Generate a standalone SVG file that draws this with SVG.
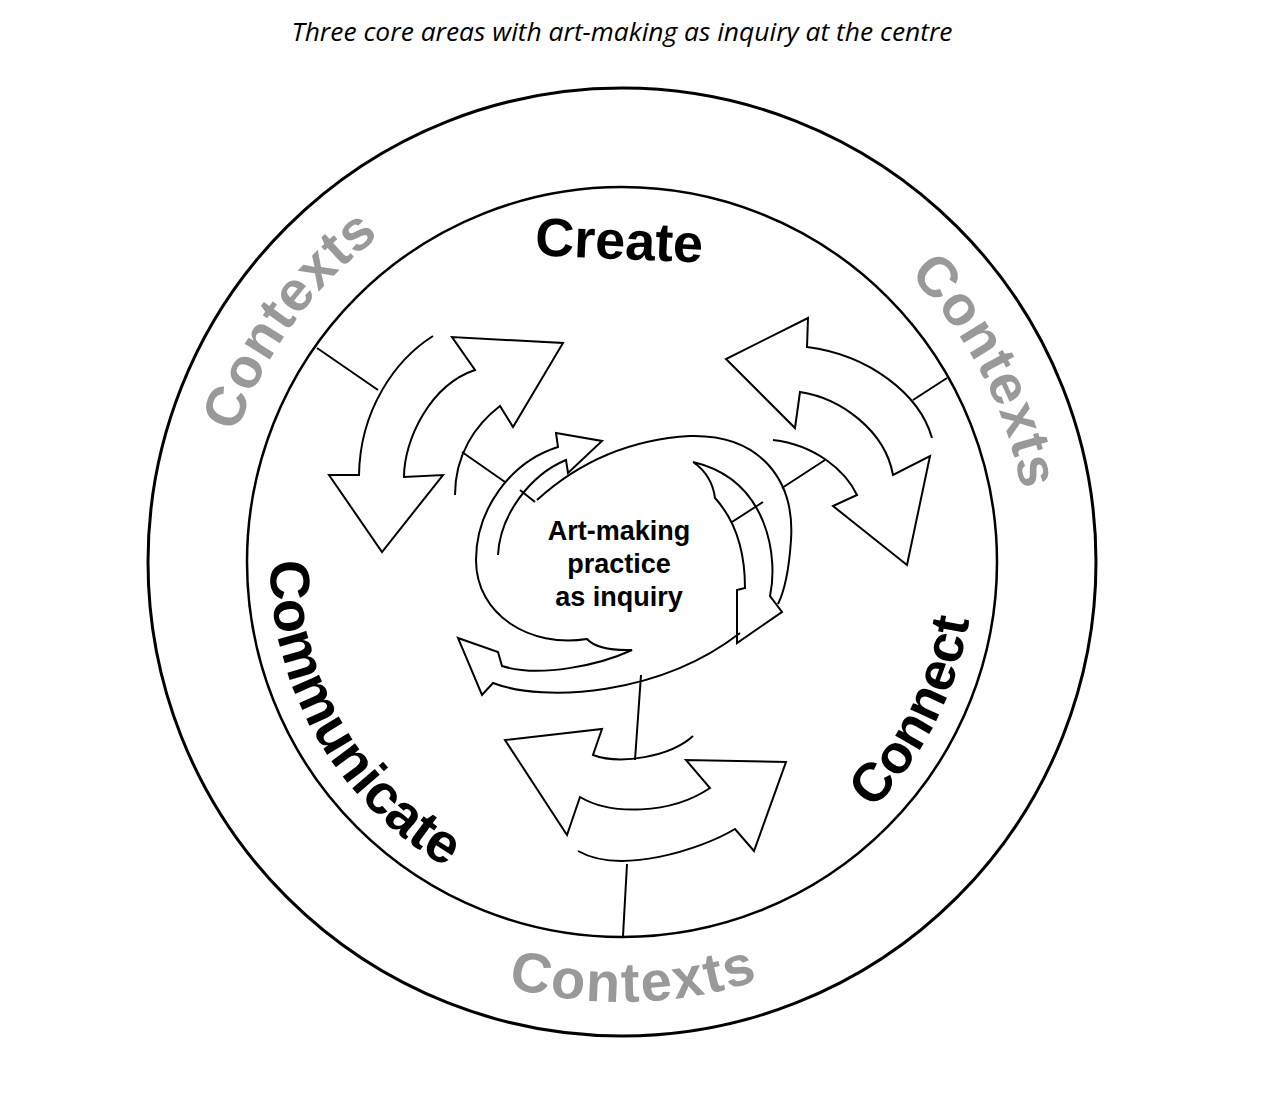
<svg xmlns="http://www.w3.org/2000/svg" width="1287" height="1104" viewBox="0 0 1287 1104">
<style>
.ring{fill:none;stroke:#000}
.ln{fill:none;stroke:#000;stroke-width:2;stroke-linejoin:miter;stroke-linecap:butt}
.ctx{font-family:"Liberation Sans",Arial,sans-serif;font-weight:bold;font-size:56px;fill:#999;letter-spacing:1px}
.area{font-family:"Liberation Sans",Arial,sans-serif;font-weight:bold;font-size:54px;fill:#000}
.core{font-family:"Liberation Sans",Arial,sans-serif;font-weight:bold;font-size:27px;fill:#000;text-anchor:middle}
.title{font-family:"Open Sans","Liberation Sans",sans-serif;font-style:italic;font-size:26px;fill:#000;text-anchor:middle}
</style>
<defs>
<path id="pCtxTL" d="M218.2,519.6 A406,406 0 0 1 456.9,191.1"/>
<path id="pCtxTR" d="M839.5,219.2 A406,406 0 0 1 1027.6,579"/>
<path id="pCtxB" d="M412.7,949 A440,440 0 0 0 852.6,936.7"/>
<path id="pComm" d="M271.9,525.2 A352,352 0 0 0 478.8,883.6"/>
<path id="pConn" d="M798,866.8 A352,352 0 0 0 972.1,525.2"/>
</defs>
<rect width="1287" height="1104" fill="#fff"/>
<text class="title" x="622" y="41" textLength="661" lengthAdjust="spacingAndGlyphs">Three core areas with art-making as inquiry at the centre</text>
<g id="rings">
<circle class="ring" cx="622" cy="562" r="474" stroke-width="3"/>
<circle class="ring" cx="622" cy="562" r="375" stroke-width="2.5"/>
</g>
<g id="contexts">
<text class="ctx"><textPath href="#pCtxTL" startOffset="50%" text-anchor="middle">Contexts</textPath></text>
<text class="ctx"><textPath href="#pCtxTR" startOffset="50%" text-anchor="middle">Contexts</textPath></text>
<text class="ctx" style="letter-spacing:2px"><textPath href="#pCtxB" startOffset="50%" text-anchor="middle">Contexts</textPath></text>
</g>
<g id="create"><text class="area" x="619" y="259" text-anchor="middle" transform="rotate(2.5 619 245)">Create</text></g>
<g id="communicate"><text class="area" style="font-size:56px"><textPath href="#pComm" startOffset="50%" text-anchor="middle">Communicate</textPath></text></g>
<g id="connect"><text class="area"><textPath href="#pConn" startOffset="50%" text-anchor="middle">Connect</textPath></text></g>
<g id="connectors">
<path class="ln" d="M317,348 L378,390 M462,452 L505,482 M520,490 L535,502 M947,378 L913,400 M825,460 L782,488 M763,502 L732,522 M641,675 L635,760 M627,864 L623,936"/>
</g>
<g id="arrows-create">
<path class="ln" d="M433,336 C395,360 360,410 359,475 L329,475 L382,552 L443,475 L404,477 C404,440 430,385 475,370 L452,337 L563,343 L513,427 L500,406 C475,425 455,455 455,495"/>
</g>
<g id="arrows-connect">
<path class="ln" d="M932,438 C920,395 870,355 807,347 L808,318 L726,359 L795,428 L800,392 C840,398 885,430 893,475 L930,456 L907,565 L833,506 L857,495 C845,470 815,445 773,440"/>
</g>
<g id="arrows-communicate">
<path class="ln" d="M693,736 C670,757 620,765 593,755 L602,729 L505,740 L567,835 L580,797 C610,815 670,815 710,788 L686,760 L786,762 L754,851 L735,829 C700,850 620,875 578,851"/>
</g>
<g id="core-arrows">
<path class="ln" d="M498,555 C500,515 530,475 566,460 L568,473 L602,441 L556,433 L558,447 C510,462 476,510 476,560 C476,615 530,648 587,639 Q598,651 632,650 C600,665 540,678 502,666 L498,652 L458,638 L482,695 L493,683 C545,703 660,695 740,633"/>
<path class="ln" d="M537,500 C570,470 620,440 690,436 C760,434 795,480 791,540 C789,570 785,590 778,604"/>
<path class="ln" d="M693,462 Q712,475 715,498 C735,520 745,550 745,588 L737,590 L737,643 L782,612 L770,596 C778,560 770,480 693,462"/>
</g>
<g id="core">
<text class="core" x="619" y="540">Art-making</text>
<text class="core" x="619" y="573">practice</text>
<text class="core" x="619" y="606">as inquiry</text>
</g>
</svg>
